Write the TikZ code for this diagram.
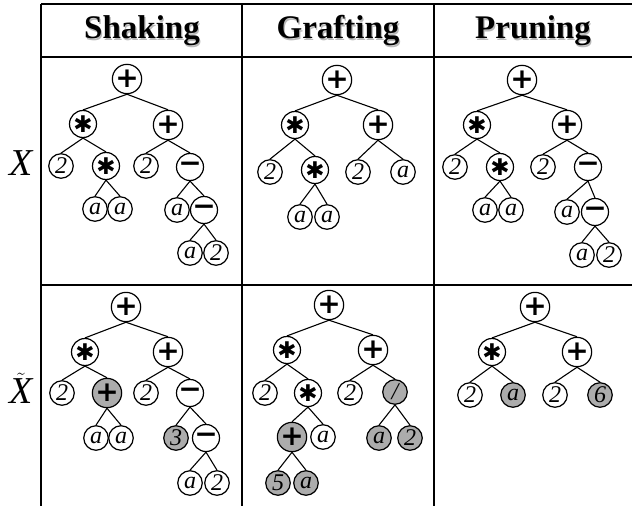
\documentclass[tikz,border=0pt]{standalone}
\usepackage{fontspec}
\setmainfont{Liberation Serif}
\newfontfamily\symf{DejaVu Sans}
\definecolor{nodegray}{RGB}{172,172,172}
\definecolor{shadowgray}{RGB}{185,185,185}
\begin{document}
\begin{tikzpicture}[x=1pt,y=-1pt,
  leaf/.style={circle,draw,line width=1.2pt,minimum size=24.5pt,inner sep=0pt,
    font=\fontsize{24}{24}\selectfont\itshape},
  op/.style={circle,draw,line width=1.2pt,minimum size=27pt,inner sep=0pt,
    font=\symf\bfseries\fontsize{28}{28}\selectfont},
  ast/.style={op,font=\symf\fontsize{23}{23}\selectfont},
  gr/.style={fill=nodegray},
  edge/.style={line width=1.1pt},
  rule/.style={line width=2pt},
  head/.style={font=\fontsize{33}{33}\selectfont\bfseries},
  headshadow/.style={head,text=shadowgray},
  lab/.style={font=\fontsize{38}{38}\selectfont\itshape}]
\useasboundingbox (0,0) rectangle (632,506);
% table rules
\coordinate (tl) at (41,4); \coordinate (tr) at (632,4);
\coordinate (hl) at (41,57); \coordinate (hr) at (632,57);
\coordinate (ml) at (41,285); \coordinate (mr) at (632,285);
\coordinate (v1t) at (41,4); \coordinate (v1b) at (41,506);
\coordinate (v2t) at (242,4); \coordinate (v2b) at (242,506);
\coordinate (v3t) at (434,4); \coordinate (v3b) at (434,506);
\draw[rule] (tl) -- (tr);
\draw[rule] (hl) -- (hr);
\draw[rule] (ml) -- (mr);
\draw[rule] (v1t) -- (v1b);
\draw[rule] (v2t) -- (v2b);
\draw[rule] (v3t) -- (v3b);
% headers
\node[headshadow] (h1s) at (143.2,32.2) {Shaking};
\node[head] (h1) at (142,31) {Shaking};
\node[headshadow] (h2s) at (339.2,32.2) {Grafting};
\node[head] (h2) at (338,31) {Grafting};
\node[headshadow] (h3s) at (534.2,32.2) {Pruning};
\node[head] (h3) at (533,31) {Pruning};
% row labels
\node[lab] (lx) at (21,163) {X};
\node[lab] (lxt) at (21,388) {$\tilde{\hbox{\fontsize{38}{38}\selectfont\itshape X}}$};
% ---- Tree A: Shaking X
\node[op] (A0) at (127,79) {+};
\node[ast] (A1) at (83,124) {✱};
\node[op] (A2) at (168,125) {+};
\node[leaf] (A3) at (61,166) {2};
\node[ast] (A4) at (106,166) {✱};
\node[leaf] (A5) at (146,166) {2};
\node[op] (A6) at (190,167) {−};
\node[leaf] (A7) at (95,209) {a};
\node[leaf] (A8) at (120,209) {a};
\node[leaf] (A9) at (177,210) {a};
\node[op] (A10) at (204,210) {−};
\node[leaf] (A11) at (190,253) {a};
\node[leaf] (A12) at (216,253) {2};
\foreach \p/\c in {0/1,0/2,1/3,1/4,2/5,2/6,4/7,4/8,6/9,6/10,10/11,10/12}
  \draw[edge] (A\p.south) -- (A\c.north);
% ---- Tree B: Grafting X
\node[op] (B0) at (337,80) {+};
\node[ast] (B1) at (295,125) {✱};
\node[op] (B2) at (378,125) {+};
\node[leaf] (B3) at (270,172) {2};
\node[ast] (B4) at (315,170) {✱};
\node[leaf] (B5) at (358,172) {2};
\node[leaf] (B6) at (403,172) {a};
\node[leaf] (B7) at (300,217) {a};
\node[leaf] (B8) at (327,217) {a};
\foreach \p/\c in {0/1,0/2,1/3,1/4,2/5,2/6,4/7,4/8}
  \draw[edge] (B\p.south) -- (B\c.north);
% ---- Tree C: Pruning X
\node[op] (C0) at (522,80) {+};
\node[ast] (C1) at (477,125) {✱};
\node[op] (C2) at (567,125) {+};
\node[leaf] (C3) at (455,167) {2};
\node[ast] (C4) at (500,167) {✱};
\node[leaf] (C5) at (543,167) {2};
\node[op] (C6) at (588,167) {−};
\node[leaf] (C7) at (485,210) {a};
\node[leaf] (C8) at (511,210) {a};
\node[leaf] (C9) at (567,212) {a};
\node[op] (C10) at (595,212) {−};
\node[leaf] (C11) at (582,255) {a};
\node[leaf] (C12) at (609,255) {2};
\foreach \p/\c in {0/1,0/2,1/3,1/4,2/5,2/6,4/7,4/8,6/9,6/10,10/11,10/12}
  \draw[edge] (C\p.south) -- (C\c.north);
% ---- Tree D: Shaking X tilde
\node[op] (D0) at (126,307) {+};
\node[ast] (D1) at (85,352) {✱};
\node[op] (D2) at (168,352) {+};
\node[leaf] (D3) at (62,393) {2};
\node[op,gr] (D4) at (107,393) {+};
\node[leaf] (D5) at (146,393) {2};
\node[op] (D6) at (190,393) {−};
\node[leaf] (D7) at (96,438) {a};
\node[leaf] (D8) at (121,438) {a};
\node[leaf,gr] (D9) at (176,438) {3};
\node[op] (D10) at (206,438) {−};
\node[leaf] (D11) at (190,483) {a};
\node[leaf] (D12) at (217,483) {2};
\foreach \p/\c in {0/1,0/2,1/3,1/4,2/5,2/6,4/7,4/8,6/9,6/10,10/11,10/12}
  \draw[edge] (D\p.south) -- (D\c.north);
% ---- Tree E: Grafting X tilde
\node[op] (E0) at (329,305) {+};
\node[ast] (E1) at (287,350) {✱};
\node[op] (E2) at (373,350) {+};
\node[leaf] (E3) at (265,393) {2};
\node[ast] (E4) at (308,393) {✱};
\node[leaf] (E5) at (350,393) {2};
\node[leaf,gr] (E6) at (395,392) {/};
\node[op,gr] (E7) at (292,437) {+};
\node[leaf] (E8) at (323,437) {a};
\node[leaf,gr] (E9) at (379,438) {a};
\node[leaf,gr] (E10) at (410,438) {2};
\node[leaf,gr] (E11) at (278,483) {5};
\node[leaf,gr] (E12) at (306,483) {a};
\foreach \p/\c in {0/1,0/2,1/3,1/4,2/5,2/6,4/7,4/8,6/9,6/10,7/11,7/12}
  \draw[edge] (E\p.south) -- (E\c.north);
% ---- Tree F: Pruning X tilde
\node[op] (F0) at (535,307) {+};
\node[ast] (F1) at (492,352) {✱};
\node[op] (F2) at (577,352) {+};
\node[leaf] (F3) at (470,395) {2};
\node[leaf,gr] (F4) at (513,395) {a};
\node[leaf] (F5) at (555,395) {2};
\node[leaf,gr] (F6) at (600,395) {6};
\foreach \p/\c in {0/1,0/2,1/3,1/4,2/5,2/6}
  \draw[edge] (F\p.south) -- (F\c.north);
\end{tikzpicture}
\end{document}
